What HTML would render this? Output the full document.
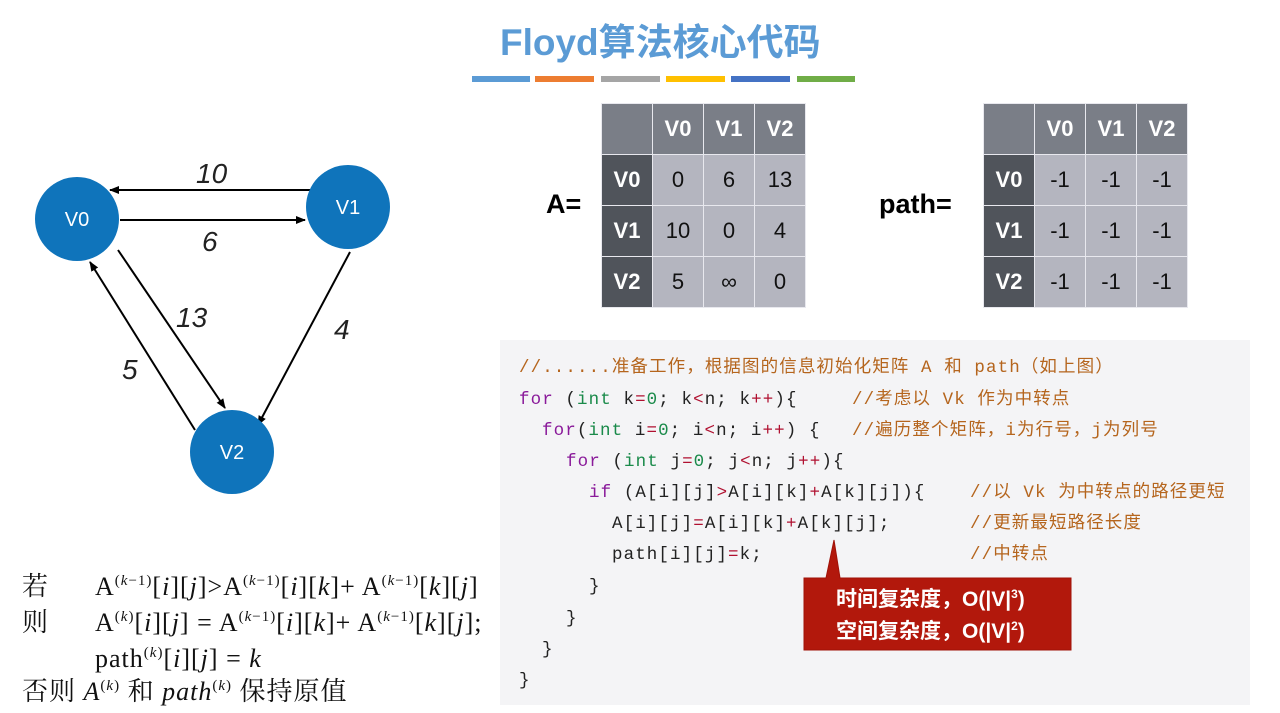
<!DOCTYPE html>
<html><head><meta charset="utf-8"><style>
body{margin:0;width:1280px;height:713px;background:#fff;position:relative;overflow:hidden;font-family:"Liberation Sans","Noto Sans CJK SC",sans-serif}
.a{position:absolute}
.t{position:absolute;border-collapse:collapse}
.t td{width:50px;height:50px;padding:0;text-align:center;font-size:22px;color:#111;background:#b4b5bf;border:1px solid #e8e8ee}
.t td.h{background:#7a7e87;color:#fff;font-weight:bold}
.t td.c{background:#50545b;color:#fff;font-weight:bold}
.code{position:absolute;left:500px;top:340px;width:750px;height:365px;background:#f4f4f6}
.ln{position:absolute;font-family:"Liberation Mono","Noto Sans CJK SC",monospace;font-size:17.5px;letter-spacing:1.1px;color:#222;white-space:pre;line-height:20px}
.k{color:#8a1a9a}.g{color:#1a8a4a}.r{color:#b01030}.cm{color:#b5651d}
.m{font-family:"Liberation Serif","Noto Serif CJK SC",serif;font-size:26px;letter-spacing:1px;line-height:30px;position:absolute;white-space:nowrap;color:#111}
.m sup{font-size:15px;vertical-align:10px;line-height:0}
.cb{position:absolute;left:836px;color:#fff;font-size:21px;font-weight:bold;line-height:30px;white-space:nowrap}
.cb sup{font-size:12px;line-height:0;vertical-align:8px}
</style></head><body>
<div class="a" style="left:500px;top:12px;font-size:37px;font-weight:bold;color:#5b9bd5">Floyd算法核心代码</div>
<div class="a" style="left:472px;top:76px;width:58px;height:6px;background:#5b9bd5"></div>
<div class="a" style="left:535px;top:76px;width:59px;height:6px;background:#ed7d31"></div>
<div class="a" style="left:601px;top:76px;width:59px;height:6px;background:#a5a5a5"></div>
<div class="a" style="left:666px;top:76px;width:59px;height:6px;background:#ffc000"></div>
<div class="a" style="left:731px;top:76px;width:59px;height:6px;background:#4472c4"></div>
<div class="a" style="left:797px;top:76px;width:58px;height:6px;background:#70ad47"></div>

<svg class="a" style="left:0;top:0" width="480" height="560">
<defs><marker id="ar" markerWidth="10" markerHeight="10" refX="9" refY="5" orient="auto" markerUnits="userSpaceOnUse"><path d="M0,1 L10,5 L0,9 z" fill="#000"/></marker></defs>
<g stroke="#000" stroke-width="2">
<line x1="316" y1="190" x2="110" y2="190" marker-end="url(#ar)"/>
<line x1="120" y1="220" x2="305" y2="220" marker-end="url(#ar)"/>
<line x1="118" y1="250" x2="225" y2="408" marker-end="url(#ar)"/>
<line x1="195" y1="430" x2="90" y2="262" marker-end="url(#ar)"/>
<line x1="350" y1="252" x2="258" y2="425" marker-end="url(#ar)"/>
</g>
<circle cx="77" cy="219" r="42" fill="#0f74bb"/>
<circle cx="348" cy="207" r="42" fill="#0f74bb"/>
<circle cx="232" cy="452" r="42" fill="#0f74bb"/>
<g fill="#fff" font-size="20" font-family="Liberation Sans" text-anchor="middle">
<text x="77" y="226">V0</text><text x="348" y="214">V1</text><text x="232" y="459">V2</text></g>
<g font-size="28" font-style="italic" font-family="Liberation Sans" fill="#222">
<text x="196" y="183">10</text><text x="202" y="251">6</text><text x="176" y="327">13</text><text x="122" y="379">5</text><text x="334" y="339">4</text></g>
</svg>

<div class="a" style="left:546px;top:189px;font-size:27px;font-weight:bold">A=</div>
<table class="t" style="left:601px;top:103px">
<tr><td class="h"></td><td class="h">V0</td><td class="h">V1</td><td class="h">V2</td></tr>
<tr><td class="c">V0</td><td>0</td><td>6</td><td>13</td></tr>
<tr><td class="c">V1</td><td>10</td><td>0</td><td>4</td></tr>
<tr><td class="c">V2</td><td>5</td><td>∞</td><td>0</td></tr></table>
<div class="a" style="left:879px;top:189px;font-size:27px;font-weight:bold">path=</div>
<table class="t" style="left:983px;top:103px">
<tr><td class="h"></td><td class="h">V0</td><td class="h">V1</td><td class="h">V2</td></tr>
<tr><td class="c">V0</td><td>-1</td><td>-1</td><td>-1</td></tr>
<tr><td class="c">V1</td><td>-1</td><td>-1</td><td>-1</td></tr>
<tr><td class="c">V2</td><td>-1</td><td>-1</td><td>-1</td></tr></table>

<div class="code"></div>
<div class="ln cm" style="left:519px;top:358px">//......准备工作，根据图的信息初始化矩阵 A 和 path（如上图）</div>
<div class="ln" style="left:519px;top:390px"><span class="k">for</span> (<span class="g">int</span> k<span class="r">=</span><span class="g">0</span>; k<span class="r">&lt;</span>n; k<span class="r">++</span>){</div>
<div class="ln cm" style="left:852px;top:390px">//考虑以 Vk 作为中转点</div>
<div class="ln" style="left:542px;top:421px"><span class="k">for</span>(<span class="g">int</span> i<span class="r">=</span><span class="g">0</span>; i<span class="r">&lt;</span>n; i<span class="r">++</span>) {</div>
<div class="ln cm" style="left:852px;top:421px">//遍历整个矩阵，i为行号，j为列号</div>
<div class="ln" style="left:566px;top:452px"><span class="k">for</span> (<span class="g">int</span> j<span class="r">=</span><span class="g">0</span>; j<span class="r">&lt;</span>n; j<span class="r">++</span>){</div>
<div class="ln" style="left:589px;top:483px"><span class="k">if</span> (A[i][j]<span class="r">&gt;</span>A[i][k]<span class="r">+</span>A[k][j]){</div>
<div class="ln cm" style="left:970px;top:483px">//以 Vk 为中转点的路径更短</div>
<div class="ln" style="left:612px;top:514px">A[i][j]<span class="r">=</span>A[i][k]<span class="r">+</span>A[k][j];</div>
<div class="ln cm" style="left:970px;top:514px">//更新最短路径长度</div>
<div class="ln" style="left:612px;top:545px">path[i][j]<span class="r">=</span>k;</div>
<div class="ln cm" style="left:970px;top:545px">//中转点</div>
<div class="ln" style="left:589px;top:577px">}</div>
<div class="ln" style="left:566px;top:609px">}</div>
<div class="ln" style="left:542px;top:640px">}</div>
<div class="ln" style="left:519px;top:671px">}</div>

<svg class="a" style="left:800px;top:535px" width="280" height="120"><path d="M4,43 L26,43 L34,5 L40,43 L271,43 L271,115 L4,115 z" fill="#b2180c" stroke="#a01208"/></svg>
<div class="cb" style="top:585px">时间复杂度，O(|V|<sup>3</sup>)</div>
<div class="cb" style="top:617px">空间复杂度，O(|V|<sup>2</sup>)</div>

<div class="m" style="left:22px;top:572px">若</div>
<div class="m" style="left:95px;top:572px">A<sup>(<i>k</i>−1)</sup>[<i>i</i>][<i>j</i>]&gt;A<sup>(<i>k</i>−1)</sup>[<i>i</i>][<i>k</i>]+ A<sup>(<i>k</i>−1)</sup>[<i>k</i>][<i>j</i>]</div>
<div class="m" style="left:22px;top:608px">则</div>
<div class="m" style="left:95px;top:608px">A<sup>(<i>k</i>)</sup>[<i>i</i>][<i>j</i>] = A<sup>(<i>k</i>−1)</sup>[<i>i</i>][<i>k</i>]+ A<sup>(<i>k</i>−1)</sup>[<i>k</i>][<i>j</i>];</div>
<div class="m" style="left:95px;top:644px">path<sup>(<i>k</i>)</sup>[<i>i</i>][<i>j</i>] = <i>k</i></div>
<div class="m" style="left:22px;top:677px">否则 <i>A</i><sup>(<i>k</i>)</sup> 和 <i>path</i><sup>(<i>k</i>)</sup> 保持原值</div>
</body></html>
